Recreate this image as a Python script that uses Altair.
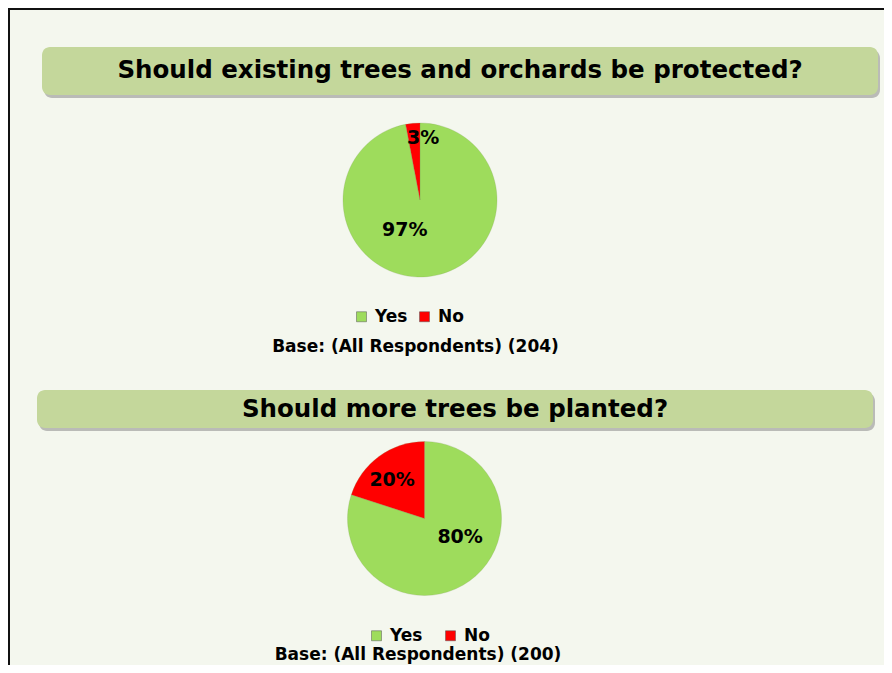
import altair as alt
import pandas as pd

# ---- data ----
categories = ["Yes", "No"]
q1_values = [97, 3]
q2_values = [80, 20]
title1 = "Should existing trees and orchards be protected?"
title2 = "Should more trees be planted?"
base1 = "Base: (All Respondents) (204)"
base2 = "Base: (All Respondents) (200)"

# ---- styles ----
BG = "#f4f7ee"
BOX = "#c4d79b"
COLORS = ["#9edc5c", "#ff0000"]
FONT = "DejaVu Sans"
W, H = 876, 657

def pie_df(values):
    return pd.DataFrame({"cat": categories, "value": values, "ord": list(range(len(categories)))})

dummy = pd.DataFrame({"a": [0]})

def box(x1, x2, y1, y2):
    shadow = alt.Chart(dummy).mark_rect(cornerRadius=8, fill="#8a8a8a", opacity=0.55).encode(
        x=alt.value(x1 + 2), x2=alt.value(x2 + 2), y=alt.value(y1 + 3), y2=alt.value(y2 + 3))
    main = alt.Chart(dummy).mark_rect(cornerRadius=8, fill=BOX).encode(
        x=alt.value(x1), x2=alt.value(x2), y=alt.value(y1), y2=alt.value(y2))
    return [shadow, main]

def text(t, x, y, size):
    return alt.Chart(dummy).mark_text(font=FONT, fontWeight="bold", fontSize=size, color="black",
                                      align="center", baseline="middle").encode(
        x=alt.value(x), y=alt.value(y), text=alt.value(t))

def pie(values, cx, cy, r, lx, ly, col_pad):
    df = pie_df(values)
    arc = alt.Chart(df).mark_arc(outerRadius=r, stroke="#7f9f5a", strokeWidth=0.4, strokeOpacity=0.6).encode(
        theta=alt.Theta("value:Q", stack=True),
        color=alt.Color("cat:N", scale=alt.Scale(domain=categories, range=COLORS),
                        legend=alt.Legend(orient="none", legendX=lx, legendY=ly, direction="horizontal",
                                          title=None, symbolType="square", symbolSize=100,
                                          symbolStrokeWidth=0.5, symbolStrokeColor="#555",
                                          labelFont=FONT, labelFontSize=17, labelFontWeight="bold",
                                          labelColor="black", labelOffset=5, columnPadding=col_pad)),
        order=alt.Order("ord:Q"),
        x=alt.value(cx), y=alt.value(cy),
    )
    return df, arc

def pie_label(df, cat, cx, cy, radius, dx, dy):
    return alt.Chart(df).transform_calculate(
        lab=f"datum.cat == '{cat}' ? datum.value + '%' : ''"
    ).mark_text(font=FONT, fontWeight="bold", fontSize=19, color="black", radius=radius,
                dx=dx, dy=dy, align="center", baseline="middle").encode(
        theta=alt.Theta("value:Q", stack=True),
        order=alt.Order("ord:Q"),
        detail="cat:N",
        text="lab:N",
        x=alt.value(cx), y=alt.value(cy),
    )

layers = []
# border (left and top)
layers.append(alt.Chart(dummy).mark_rule(color="#111", strokeWidth=2).encode(
    x=alt.value(1), y=alt.value(0), y2=alt.value(H)))
layers.append(alt.Chart(dummy).mark_rule(color="#111", strokeWidth=2).encode(
    x=alt.value(0), x2=alt.value(W), y=alt.value(1)))

layers += box(34, 870, 39, 87)
layers.append(text(title1, 452, 63, 24.5))
layers += box(29, 865, 382, 420)
layers.append(text(title2, 447, 402, 24.5))

df1, arc1 = pie(q1_values, 412, 192, 77, 345, 300, 8)
df2, arc2 = pie(q2_values, 416.5, 510.5, 77, 360, 619, 19)
layers += [arc1, arc2]
layers.append(pie_label(df1, "Yes", 412, 192, 30, -18, 0))
layers.append(pie_label(df1, "No", 412, 192, 62, 9, 0))
layers.append(pie_label(df2, "Yes", 416.5, 510.5, 30, 18, -6))
layers.append(pie_label(df2, "No", 416.5, 510.5, 50, -3, 2))

layers.append(text(base1, 407.5, 339, 17))
layers.append(text(base2, 410, 647, 17))

chart = alt.layer(*layers).resolve_scale(color="independent").properties(
    width=W, height=H, padding=0, autosize=alt.AutoSizeParams(type="none"), background=BG
).configure_view(stroke=None, fill=BG)

chart.save("out.html", embed_options={"renderer": "svg", "actions": False})
